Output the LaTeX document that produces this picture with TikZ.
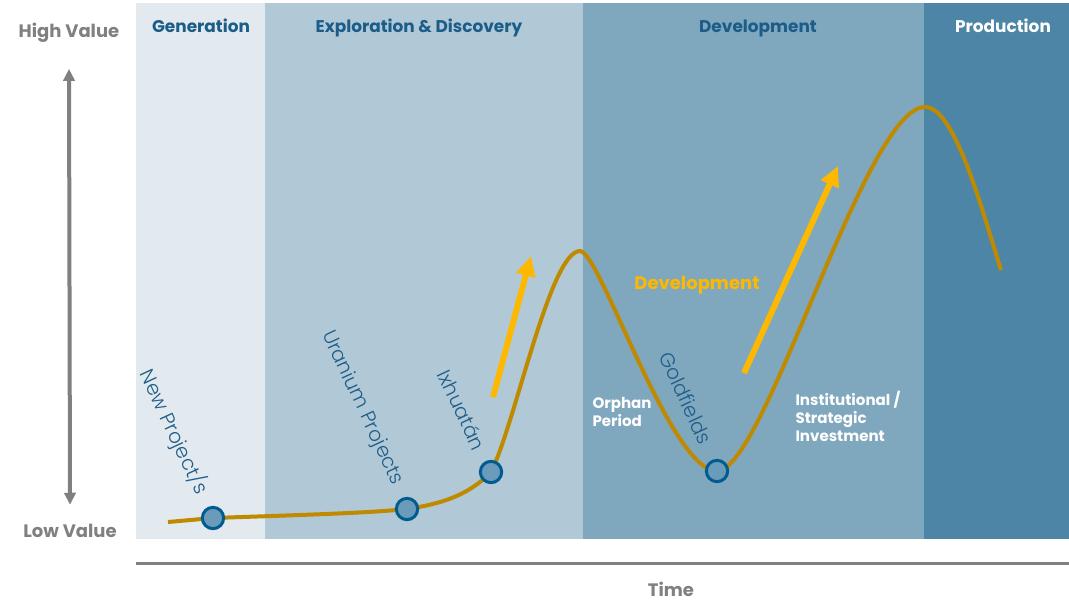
\documentclass[tikz,border=0pt]{standalone}
\usepackage{fontspec}
\setmainfont{Poppins}
\newfontfamily\lightfont{Poppins Light}
\usetikzlibrary{arrows.meta}
\tikzset{every picture/.style={line width=0.75pt}}

\begin{document}
\begin{tikzpicture}[x=0.75pt,y=0.75pt,yscale=-1,xscale=1,
	head/.style={font=\bfseries\fontsize{12.7}{15}\selectfont, text={rgb, 255:red, 27; green, 92; blue, 136 }, anchor=base},
	axislbl/.style={font=\bfseries\fontsize{13.5}{16}\selectfont, text={rgb, 255:red, 128; green, 128; blue, 128 }, anchor=base},
	site/.style={circle, draw={rgb, 255:red, 0; green, 91; blue, 143 }, fill={rgb, 255:red, 107; green, 155; blue, 186 }, line width=2.25pt, minimum size=16pt, inner sep=0pt},
	sitelbl/.style={font=\lightfont\fontsize{15}{17}\selectfont, text={rgb, 255:red, 31; green, 94; blue, 138 }, rotate=-65},
	phaselbl/.style={font=\bfseries\fontsize{11.3}{13.4}\selectfont, text=white, align=left, anchor=north west, inner sep=0pt},
	risearrow/.style={draw={rgb, 255:red, 255; green, 184; blue, 0 }, line width=4.5pt, -{Triangle[length=15pt,width=14pt]}},
	valuecurve/.style={draw={rgb, 255:red, 191; green, 138; blue, 0 }, line width=3pt}
	]
		\path[use as bounding box] (0,0) rectangle (1069,600);
		
		%Shape: Rectangle
		\fill [color={rgb, 255:red, 226; green, 234; blue, 239 }] (136,3) rectangle (265,539);
		%Shape: Rectangle
		\fill [color={rgb, 255:red, 177; green, 201; blue, 215 }] (265,3) rectangle (583,539);
		%Shape: Rectangle
		\fill [color={rgb, 255:red, 127; green, 167; blue, 190 }] (583,3) rectangle (924,539);
		%Shape: Rectangle
		\fill [color={rgb, 255:red, 76; green, 133; blue, 166 }] (924,3) rectangle (1069,539);
		
		%Straight Lines
		\draw [color={rgb, 255:red, 128; green, 128; blue, 128 }, line width=2.25pt] (136,563) -- (1069,563) ;
		
		% Text Node
		\draw (201,32) node (gen) [head] {Generation};
		% Text Node
		\draw (419,32) node (expl) [head] {Exploration \& Discovery};
		% Text Node
		\draw (758,32) node (dev) [head] {Development};
		% Text Node
		\draw (1003,32) node (prod) [head, text=white] {Production};
		% Text Node
		\draw (69,37) node (high) [axislbl] {High Value};
		% Text Node
		\draw (70,537) node (low) [axislbl] {Low Value};
		% Text Node
		\draw (671,596) node (time) [axislbl] {Time};
		
		%Straight Lines
		\draw [color={rgb, 255:red, 128; green, 128; blue, 128 }, line width=3pt, {Triangle[length=9pt,width=8.5pt]}-{Triangle[length=9pt,width=8.5pt]}] (high.south) ++(0,22) coordinate (vtop) (low.north) ++(0,-14) coordinate (vbot) (vtop) -- (vbot) ;
		
		%Curve Lines
		\coordinate (pNew) at (213,518);
		\coordinate (pUra) at (407,509);
		\coordinate (pIxh) at (491,472);
		\coordinate (pGold) at (717,471);
		\draw [valuecurve] (168,522) -- (pNew) .. controls (300,515) and (370,513) .. (pUra) .. controls (440,504) and (468,496) .. (pIxh) .. controls (515,425) and (550,251) .. (580,251) .. controls (600,251) and (670,471) .. (pGold) .. controls (765,471) and (865,107) .. (925,107) .. controls (955,107) and (982,210) .. (1001,270) ;
		
		%Straight Lines
		\coordinate (a1s) at (493,397);
		\coordinate (a1e) at (531,256);
		\draw [risearrow] (a1s) -- (a1e) ;
		%Straight Lines
		\coordinate (a2s) at (744,373);
		\coordinate (a2e) at (838,166);
		\draw [risearrow] (a2s) -- (a2e) ;
		
		%Shape: Circle
		\node (sNew) [site] at (pNew) {};
		\node (sUra) [site] at (pUra) {};
		\node (sIxh) [site] at (pIxh) {};
		\node (sGold) [site] at (pGold) {};
		
		% Text Node
		\draw (174,432) node (lNew) [sitelbl] {New Project/s};
		% Text Node
		\draw (362,408) node (lUra) [sitelbl] {Uranium Projects};
		% Text Node
		\draw (462,410) node (lIxh) [sitelbl] {Ixhuatán};
		% Text Node
		\draw (686,398) node (lGold) [sitelbl] {Goldfields};
		
		% Text Node
		\draw (697,285) node (devlbl) [font=\bfseries\fontsize{13.5}{16}\selectfont, text={rgb, 255:red, 255; green, 184; blue, 0 }] {Development};
		% Text Node
		\draw (592,397) node (orphan) [phaselbl] {Orphan\\Period};
		% Text Node
		\draw (795,391) node (inst) [phaselbl] {Institutional /\\Strategic\\Investment};
		
\end{tikzpicture}
\end{document}
